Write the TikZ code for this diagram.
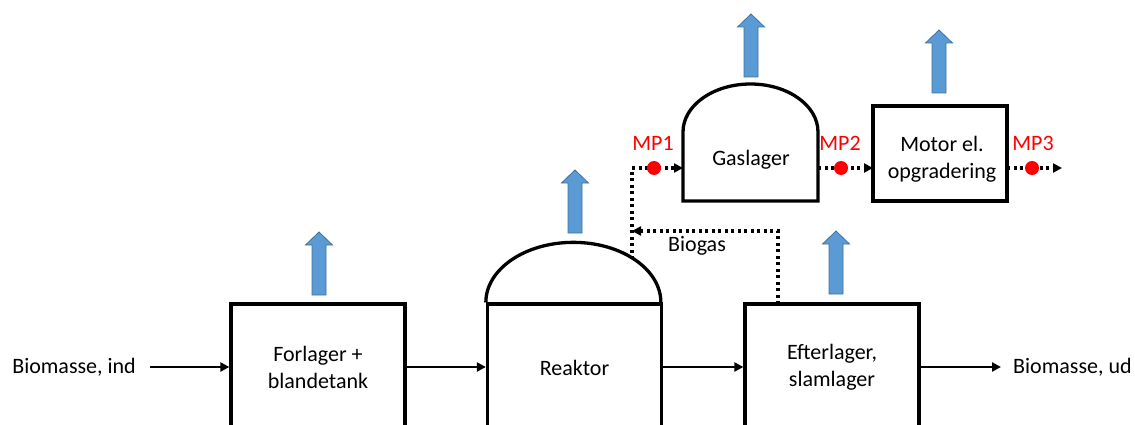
\documentclass[tikz,border=0pt]{standalone}
\usepackage{fontspec}
\setmainfont{Carlito}
\usetikzlibrary{arrows.meta,calc}
\definecolor{ventfill}{HTML}{5B9BD5}
\definecolor{ventline}{HTML}{41719C}
\definecolor{mpred}{HTML}{FF0000}
\tikzset{
  x=1pt, y=-1pt,
  every node/.style={font=\fontsize{22}{27}\selectfont, inner sep=0pt},
  unit/.style={draw, line width=3.3pt, minimum width=174pt, minimum height=126pt},
  label text/.style={align=center},
  flow/.style={line width=2.8pt, -{Triangle[length=9pt,width=9pt]}},
  gasflow/.style={line width=3.2pt, dash pattern=on 3pt off 3.5pt, -{Triangle[length=9pt,width=9pt]}},
  mpdot/.style={circle, fill=mpred, minimum size=14pt},
  mptext/.style={text=mpred},
  ventarrow/.pic={
    \draw[fill=ventfill, draw=ventline, line width=0.8pt]
      (-7,0) -- (-7,-50) -- (-13.5,-50) -- (0,-63) -- (13.5,-50) -- (7,-50) -- (7,0) -- cycle;
  }
}
\begin{document}
\begin{tikzpicture}
\clip (0,0) rectangle (1135,425);

% main process line
\node[unit] (forl) at (318,367) {};
\node[label text] (forltxt) at (318,367) {Forlager +\\blandetank};
\node[unit] (reak) at (574.5,367) {};
\node[label text] (reaktxt) at (574.5,368) {Reaktor};
\node[unit] (efter) at (832,367) {};
\node[label text] (eftertxt) at (832,367) {Efterlager,\\slamlager};

\node[anchor=east] (bioin) at (136,367) {Biomasse, ind};
\node[anchor=west] (bioud) at (1013,367) {Biomasse, ud};

% reactor dome
\draw[line width=3.3pt] (reak.north west) arc[start angle=180, end angle=0, x radius=87.5, y radius=-60];

% gas storage (drawn outline) and engine box
\coordinate (gassw) at (683,201);
\coordinate (gasse) at (818,201);
\coordinate (gasnw) at (683,132);
\coordinate (gasne) at (818,132);
\draw[line width=3.3pt] (gassw) -- (gasnw) arc[start angle=180, end angle=0, x radius=67.5, y radius=-48] -- (gasse) -- cycle;
\node (gastxt) at (751,160) {Gaslager};

\node[draw, line width=3.3pt, minimum width=134pt, minimum height=95pt] (motor) at (940,153.5) {};
\node[label text] (motortxt) at (942,159) {Motor el.\\opgradering};

% biomass connectors
\draw[flow] ([xshift=14pt]bioin.east) -- (forl.west);
\draw[flow] (forl.east) -- (reak.west);
\draw[flow] (reak.east) -- (efter.west);
\draw[flow] (efter.east) -- ([xshift=-12pt]bioud.west);

% gas connectors
\coordinate (rdome) at (632,259);
\coordinate (gasin) at (683,168);
\coordinate (gasout) at (818,168);
\coordinate (motin) at (873,168);
\coordinate (motout) at (1007,168);
\coordinate (gasend) at (1062,168);
\coordinate (efgas) at (778,304);
\coordinate (bgjoin) at (632,231);

\draw[gasflow] (rdome) |- (gasin);
\draw[gasflow] (efgas) |- (bgjoin);
\draw[gasflow] (gasout) -- (motin);
\draw[gasflow] (motout) -- (gasend);
\node (biogas) at (697,246) {Biogas};

% measuring points
\node[mpdot] (mp1) at (654,168) {};
\node[mpdot] (mp2) at (841,168) {};
\node[mpdot] (mp3) at (1032,168) {};
\node[mptext] (mp1t) at (653,143) {MP1};
\node[mptext] (mp2t) at (840,143) {MP2};
\node[mptext] (mp3t) at (1033,143) {MP3};

% heat/emission arrows
\pic at (319,295) {ventarrow};
\pic at (575,233) {ventarrow};
\pic at (751,77) {ventarrow};
\pic at (939,93) {ventarrow};
\pic at (836,294) {ventarrow};
\end{tikzpicture}
\end{document}
